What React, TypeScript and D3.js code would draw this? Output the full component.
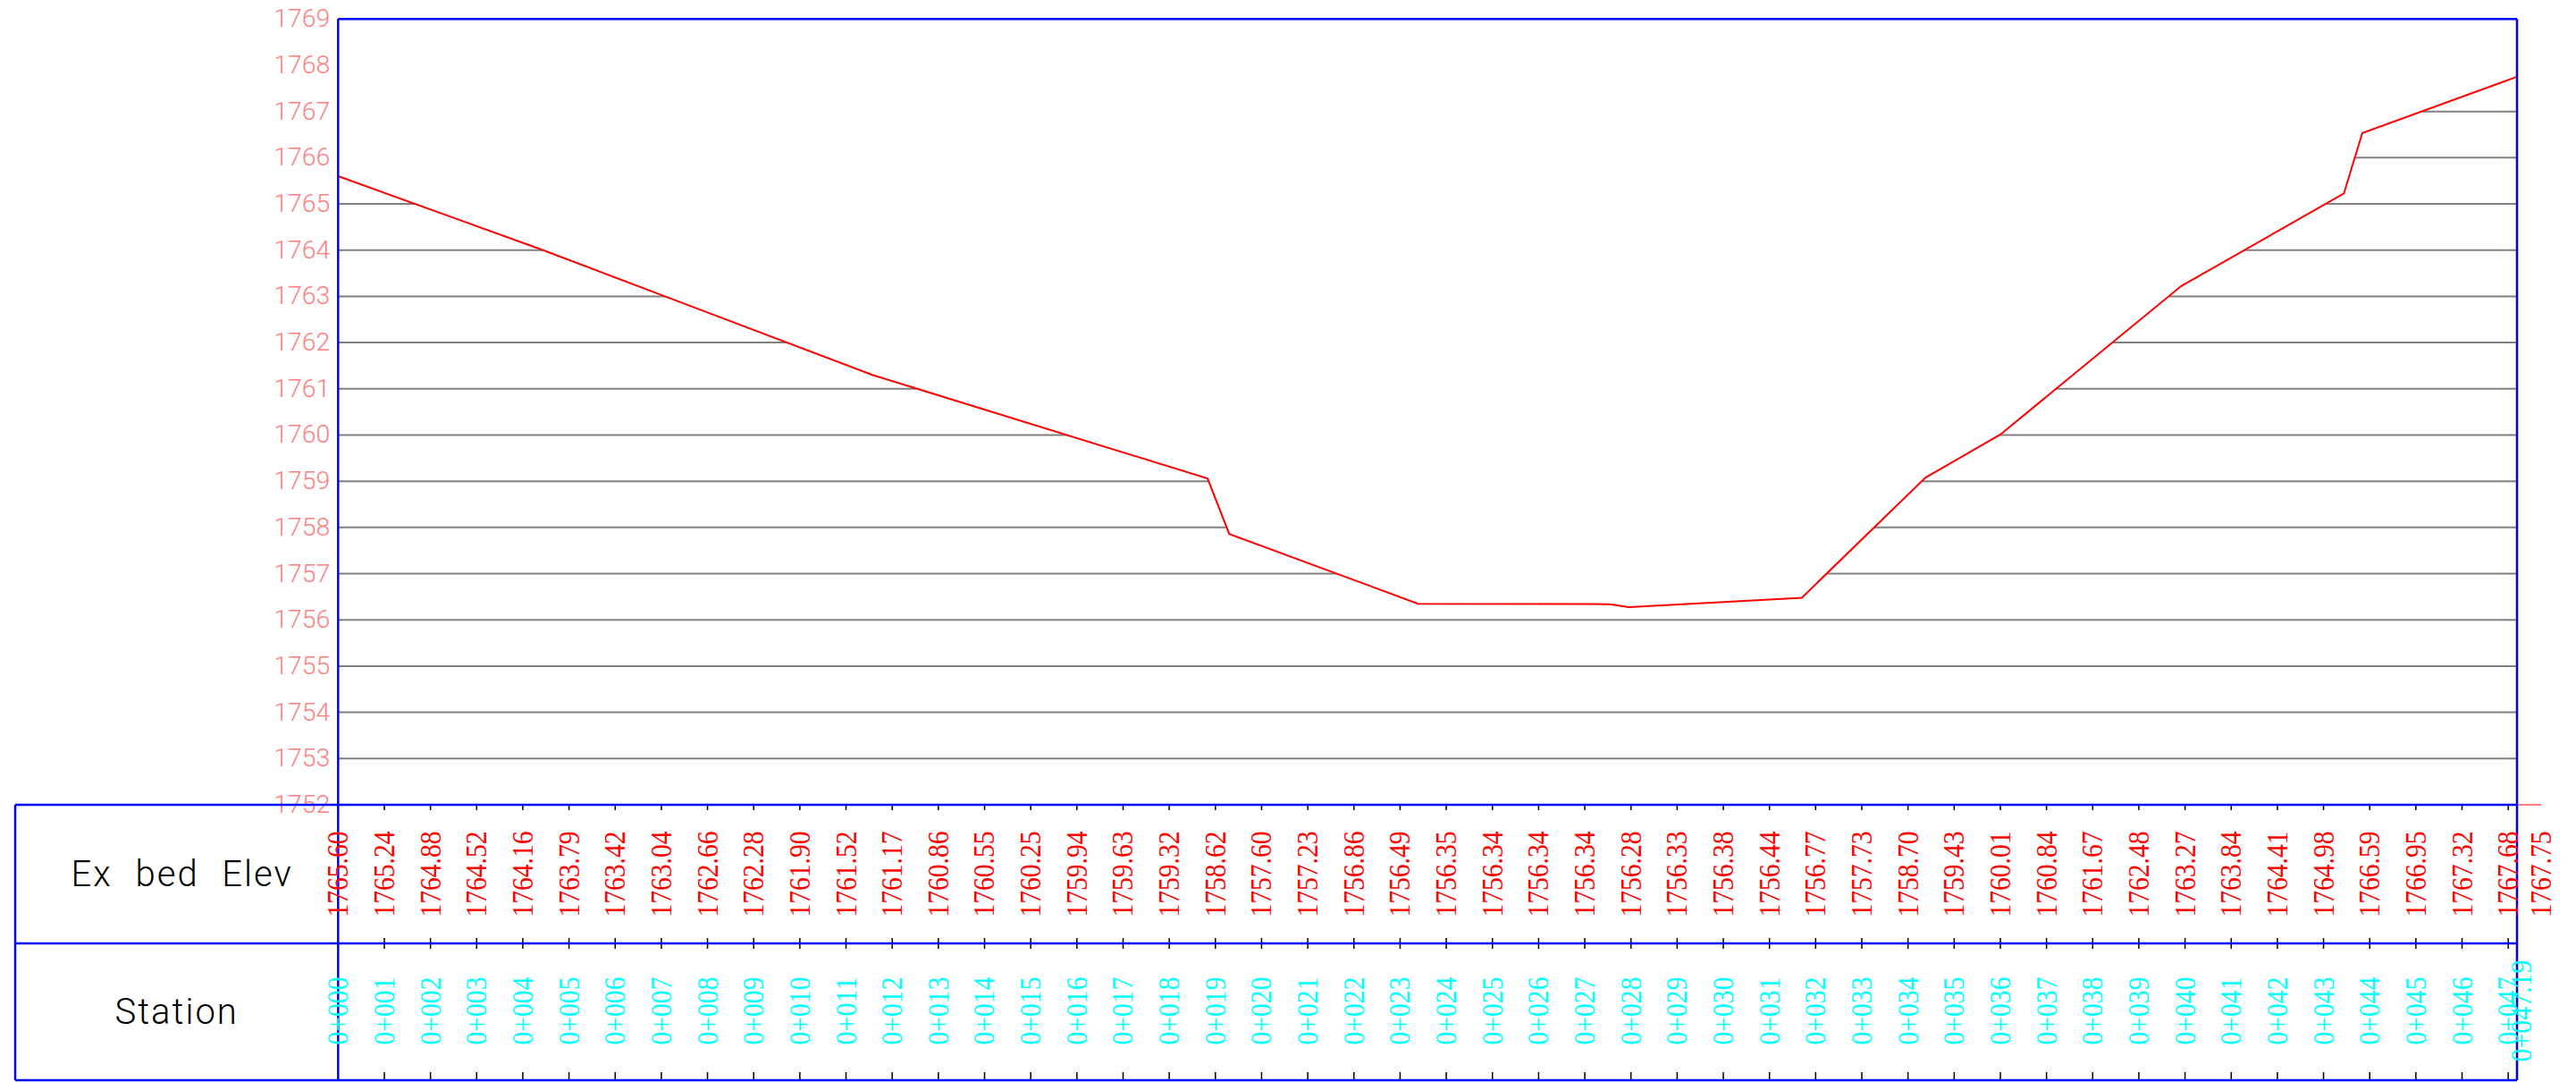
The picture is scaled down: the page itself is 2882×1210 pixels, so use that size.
import React from 'react';
import * as d3 from 'd3';

// ---- data ----
const yTicks = [1752, 1753, 1754, 1755, 1756, 1757, 1758, 1759, 1760, 1761, 1762, 1763, 1764, 1765, 1766, 1767, 1768, 1769];

// surveyed profile vertices (station in m, elevation in m)
const profileStation = [0, 4.44, 11.57, 18.83, 19.3, 23.39, 27.55, 27.95, 31.7, 34.38, 36.0, 39.92, 43.44, 43.84, 47.19];
const profileElev = [1765.6, 1764.0, 1761.3, 1759.06, 1757.86, 1756.35, 1756.34, 1756.275, 1756.48, 1759.08, 1760.01, 1763.225, 1765.225, 1766.535, 1767.75];

const stationTicks = [0, 1, 2, 3, 4, 5, 6, 7, 8, 9, 10, 11, 12, 13, 14, 15, 16, 17, 18, 19, 20, 21, 22, 23, 24, 25, 26, 27, 28, 29, 30, 31, 32, 33, 34, 35, 36, 37, 38, 39, 40, 41, 42, 43, 44, 45, 46, 47, 47.19];

const stationLabels = ["0+000", "0+001", "0+002", "0+003", "0+004", "0+005", "0+006", "0+007", "0+008", "0+009", "0+010", "0+011", "0+012", "0+013", "0+014", "0+015", "0+016", "0+017", "0+018", "0+019", "0+020", "0+021", "0+022", "0+023", "0+024", "0+025", "0+026", "0+027", "0+028", "0+029", "0+030", "0+031", "0+032", "0+033", "0+034", "0+035", "0+036", "0+037", "0+038", "0+039", "0+040", "0+041", "0+042", "0+043", "0+044", "0+045", "0+046", "0+047", "0+047.19"];

const elevLabels = ["1765.60", "1765.24", "1764.88", "1764.52", "1764.16", "1763.79", "1763.42", "1763.04", "1762.66", "1762.28", "1761.90", "1761.52", "1761.17", "1760.86", "1760.55", "1760.25", "1759.94", "1759.63", "1759.32", "1758.62", "1757.60", "1757.23", "1756.86", "1756.49", "1756.35", "1756.34", "1756.34", "1756.34", "1756.28", "1756.33", "1756.38", "1756.44", "1756.77", "1757.73", "1758.70", "1759.43", "1760.01", "1760.84", "1761.67", "1762.48", "1763.27", "1763.84", "1764.41", "1764.98", "1766.59", "1766.95", "1767.32", "1767.68", "1767.75"];

const rowTitles = ["Ex bed Elev", "Station"];

// ---- layout ----
const W = 2882;
const H = 1210;
const plotLeft = 378.3;
const plotRight = 2816;
const plotTop = 21.3;
const plotBottom = 900;
const tableLeft = 17;
const rowMid = 1055;
const tableBottom = 1208;

const BLUE = '#0000FF';
const GRID = '#808080';
const PINK = '#FF7F7F';
const RED = '#FF0000';
const CYAN = '#00FFFF';
const SANS = "Roboto, 'Liberation Sans', sans-serif";
const SERIF = "'Liberation Serif', 'Times New Roman', serif";

export default function App() {
  const x = d3.scaleLinear().domain([0, 47.19]).range([plotLeft, plotRight]);
  const y = d3.scaleLinear().domain([1752, 1769]).range([plotBottom, plotTop]);

  const pts: [number, number][] = profileStation.map((s, i) => [s, profileElev[i]]);
  const line = d3.line<[number, number]>().x(d => x(d[0])).y(d => y(d[1]));
  const area = d3.area<[number, number]>().x(d => x(d[0])).y0(plotBottom).y1(d => y(d[1]));

  const elevY = (plotBottom + rowMid) / 2;
  const staY = (rowMid + tableBottom) / 2 - 1;
  const lastIdx = stationTicks.length - 1;

  return (
    <svg width={W} height={H} style={{ position: 'absolute', left: 0, top: 0, background: '#fff' }}>
      <defs>
        <clipPath id="under">
          <path d={area(pts) || ''} />
        </clipPath>
      </defs>

      {/* grid lines, only beneath the ground profile */}
      <g clipPath="url(#under)">
        {yTicks.filter(t => t > 1752 && t < 1769).map(t => (
          <line key={t} x1={plotLeft} x2={plotRight} y1={y(t)} y2={y(t)} stroke={GRID} strokeWidth={2} />
        ))}
      </g>

      {/* y labels */}
      {yTicks.map(t => (
        <text key={t} x={plotLeft - 9} y={y(t)} textAnchor="end" dominantBaseline="central"
          fontFamily={SANS} fontWeight={300} fontSize={27} fill={PINK}
          textLength={63} lengthAdjust="spacingAndGlyphs">{t}</text>
      ))}

      {/* pink extension at base */}
      <line x1={plotRight} x2={plotRight + 27} y1={y(1752)} y2={y(1752)} stroke={PINK} strokeWidth={2} />

      {/* profile */}
      <path d={line(pts) || ''} fill="none" stroke={RED} strokeWidth={2} />

      {/* ticks in table */}
      {stationTicks.map((s, i) => (
        <g key={i} stroke="#000" strokeWidth={1.5}>
          <line x1={x(s)} x2={x(s)} y1={plotBottom} y2={plotBottom + 6} />
          <line x1={x(s)} x2={x(s)} y1={rowMid - 6} y2={rowMid + 6} />
          <line x1={x(s)} x2={x(s)} y1={tableBottom - 9} y2={tableBottom} />
        </g>
      ))}

      {/* frame */}
      <g stroke={BLUE} strokeWidth={2.5} fill="none">
        <line x1={plotLeft} x2={plotRight} y1={plotTop} y2={plotTop} />
        <line x1={plotLeft} x2={plotLeft} y1={plotTop} y2={tableBottom} />
        <line x1={plotRight} x2={plotRight} y1={plotTop} y2={tableBottom} />
        <line x1={tableLeft} x2={plotRight} y1={plotBottom} y2={plotBottom} />
        <line x1={tableLeft} x2={plotRight} y1={rowMid} y2={rowMid} />
        <line x1={tableLeft} x2={plotRight} y1={tableBottom} y2={tableBottom} />
        <line x1={tableLeft} x2={tableLeft} y1={plotBottom} y2={tableBottom} />
      </g>

      {/* row titles */}
      <text x={(tableLeft + plotLeft) / 2 + 6} y={elevY} textAnchor="middle" dominantBaseline="central"
        fontFamily={SANS} fontWeight={300} fontSize={40} fill="#000"
        letterSpacing={2} wordSpacing={14}>{rowTitles[0]}</text>
      <text x={(tableLeft + plotLeft) / 2} y={staY + 1} textAnchor="middle" dominantBaseline="central"
        fontFamily={SANS} fontWeight={300} fontSize={40} fill="#000"
        letterSpacing={2}>{rowTitles[1]}</text>

      {/* elevation labels */}
      {elevLabels.map((lab, i) => {
        const cx = x(stationTicks[i]) + (i === lastIdx ? 27 : 0);
        return (
          <text key={i} transform={`translate(${cx},${elevY}) rotate(-90)`} textAnchor="middle" dominantBaseline="central"
            fontFamily={SERIF} fontSize={33} fill={RED}
            textLength={96} lengthAdjust="spacingAndGlyphs">{lab}</text>
        );
      })}

      {/* station labels */}
      {stationLabels.map((lab, i) => {
        const cx = x(stationTicks[i]) + (i === lastIdx ? 5 : 0);
        return (
          <text key={i} transform={`translate(${cx},${staY}) rotate(-90)`} textAnchor="middle" dominantBaseline="central"
            fontFamily={SERIF} fontSize={33} fill={CYAN}
            textLength={lab.length > 5 ? 114 : 76} lengthAdjust="spacingAndGlyphs">{lab}</text>
        );
      })}
    </svg>
  );
}
